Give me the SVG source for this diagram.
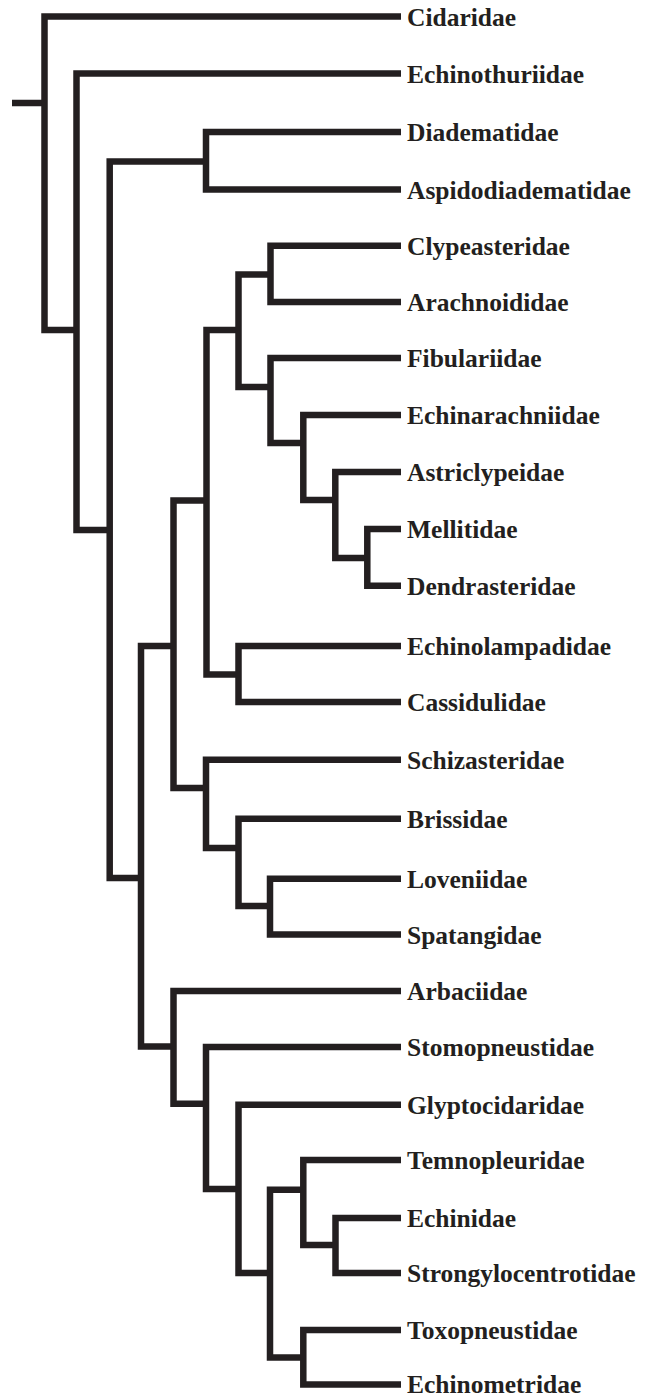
<svg xmlns="http://www.w3.org/2000/svg" width="649" height="1397" viewBox="0 0 649 1397">
<style>
.e{fill:none;stroke:#231f20;stroke-width:6.5;stroke-linecap:butt;stroke-linejoin:miter}
.t{font-family:"Liberation Serif","Times New Roman",serif;font-weight:bold;font-size:25.5px;fill:#231f20}
</style>
<rect width="649" height="1397" fill="#fff"/>
<g id="connectors">
<path class="e" d="M12 103H44.5"/>
<path class="e" d="M401 16.5H44.5V330H76.5"/>
<path class="e" d="M401 73.5H76.5V530H109.7"/>
<path class="e" d="M206 161.5H109.7V878H141"/>
<path class="e" d="M401 132H206V189.5H401"/>
<path class="e" d="M173.5 646H141V1046.5H173.5"/>
<path class="e" d="M206.5 500.5H173.5V788H206"/>
<path class="e" d="M238.5 330H206.5V674.5H238.5"/>
<path class="e" d="M270.5 274.5H238.5V387H270.5"/>
<path class="e" d="M401 245.7H270.5V302H401"/>
<path class="e" d="M401 358H270.5V443H303.3"/>
<path class="e" d="M401 415H303.3V500H335.3"/>
<path class="e" d="M401 472H335.3V558H367.3"/>
<path class="e" d="M401 529H367.3V585.7H401"/>
<path class="e" d="M401 646H238.5V702H401"/>
<path class="e" d="M401 759.7H206V848H238.5"/>
<path class="e" d="M401 818.7H238.5V906H270"/>
<path class="e" d="M401 878.7H270V934.5H401"/>
<path class="e" d="M401 991H173.5V1103.7H206"/>
<path class="e" d="M401 1047H206V1189H238.5"/>
<path class="e" d="M401 1104.7H238.5V1273H270"/>
<path class="e" d="M303.3 1189.7H270V1357.5H303.3"/>
<path class="e" d="M401 1160H303.3V1245H335.5"/>
<path class="e" d="M401 1218H335.5V1273H401"/>
<path class="e" d="M401 1330H303.3V1384.5H401"/>
</g>
<g id="n-cidaridae"><text class="t" x="407" y="25.5">Cidaridae</text></g>
<g id="n-echinothuriidae"><text class="t" x="407" y="82.5">Echinothuriidae</text></g>
<g id="n-diadematidae"><text class="t" x="407" y="141">Diadematidae</text></g>
<g id="n-aspidodiadematidae"><text class="t" x="407" y="198.5">Aspidodiadematidae</text></g>
<g id="n-clypeasteridae"><text class="t" x="407" y="254.7">Clypeasteridae</text></g>
<g id="n-arachnoididae"><text class="t" x="407" y="311">Arachnoididae</text></g>
<g id="n-fibulariidae"><text class="t" x="407" y="367">Fibulariidae</text></g>
<g id="n-echinarachniidae"><text class="t" x="407" y="424">Echinarachniidae</text></g>
<g id="n-astriclypeidae"><text class="t" x="407" y="481">Astriclypeidae</text></g>
<g id="n-mellitidae"><text class="t" x="407" y="538">Mellitidae</text></g>
<g id="n-dendrasteridae"><text class="t" x="407" y="594.7">Dendrasteridae</text></g>
<g id="n-echinolampadidae"><text class="t" x="407" y="655">Echinolampadidae</text></g>
<g id="n-cassidulidae"><text class="t" x="407" y="711">Cassidulidae</text></g>
<g id="n-schizasteridae"><text class="t" x="407" y="768.7">Schizasteridae</text></g>
<g id="n-brissidae"><text class="t" x="407" y="827.7">Brissidae</text></g>
<g id="n-loveniidae"><text class="t" x="407" y="887.7">Loveniidae</text></g>
<g id="n-spatangidae"><text class="t" x="407" y="943.5">Spatangidae</text></g>
<g id="n-arbaciidae"><text class="t" x="407" y="1000">Arbaciidae</text></g>
<g id="n-stomopneustidae"><text class="t" x="407" y="1056">Stomopneustidae</text></g>
<g id="n-glyptocidaridae"><text class="t" x="407" y="1113.7">Glyptocidaridae</text></g>
<g id="n-temnopleuridae"><text class="t" x="407" y="1169">Temnopleuridae</text></g>
<g id="n-echinidae"><text class="t" x="407" y="1227">Echinidae</text></g>
<g id="n-strongylocentrotidae"><text class="t" x="407" y="1282">Strongylocentrotidae</text></g>
<g id="n-toxopneustidae"><text class="t" x="407" y="1339">Toxopneustidae</text></g>
<g id="n-echinometridae"><text class="t" x="407" y="1393">Echinometridae</text></g>
</svg>
